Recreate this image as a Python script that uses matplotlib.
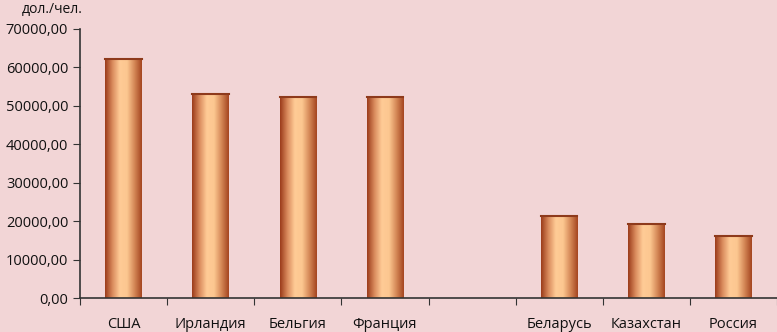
import matplotlib.pyplot as plt
import numpy as np
from matplotlib.colors import LinearSegmentedColormap
from matplotlib.ticker import FuncFormatter

countries = ['США', 'Ирландия', 'Бельгия', 'Франция', '', 'Беларусь', 'Казахстан', 'Россия']
values = [62300, 53200, 52300, 52200, None, 21300, 19200, 16100]

bg = '#f2d5d6'
plt.rcParams['font.family'] = ['Open Sans', 'DejaVu Sans']

fig = plt.figure(figsize=(7.77, 3.32), dpi=100, facecolor=bg)
ax = fig.add_axes([80 / 777, 34 / 332, 697 / 777, 269 / 332], facecolor=bg)

cmap = LinearSegmentedColormap.from_list(
    'copper_bar', ['#9a3a1a', '#d98a5c', '#ffcb96', '#fcc790', '#d48756', '#a4441f'])
grad = np.linspace(0, 1, 256).reshape(1, -1)

width = 0.42
for i, v in enumerate(values):
    if v is None:
        continue
    x0 = i + 0.5 - width / 2
    ax.imshow(grad, cmap=cmap, aspect='auto', extent=[x0, x0 + width, 0, v],
              interpolation='bicubic', zorder=2)
    ax.plot([x0, x0 + width], [v, v], color='#8e3a1c', lw=1.5, zorder=3)

ax.set_xlim(0, len(countries))
ax.set_ylim(0, 70000)
ax.set_yticks(np.arange(0, 70001, 10000))
ax.yaxis.set_major_formatter(FuncFormatter(lambda y, _: f'{y:.2f}'.replace('.', ',')))
ax.set_xticks(np.arange(0, len(countries) + 1))
ax.set_xticklabels([])
ax.set_xticks(np.arange(len(countries)) + 0.5, minor=True)
ax.set_xticklabels(countries, minor=True)
ax.tick_params(axis='x', which='minor', length=0, pad=14, labelsize=10.5, colors='#111111')
ax.tick_params(axis='x', which='major', length=5, direction='out', color='#333333')
ax.tick_params(axis='y', length=5, direction='out', color='#333333', labelsize=10.5,
               labelcolor='#111111')

for s in ['top', 'right']:
    ax.spines[s].set_visible(False)
for s in ['left', 'bottom']:
    ax.spines[s].set_color('#333333')
    ax.spines[s].set_linewidth(1.2)

fig.text(22 / 777, 1 - 10 / 332, 'дол./чел.', fontsize=10, va='center', color='#111111')

fig.savefig('out.png', dpi=100, facecolor=bg)
